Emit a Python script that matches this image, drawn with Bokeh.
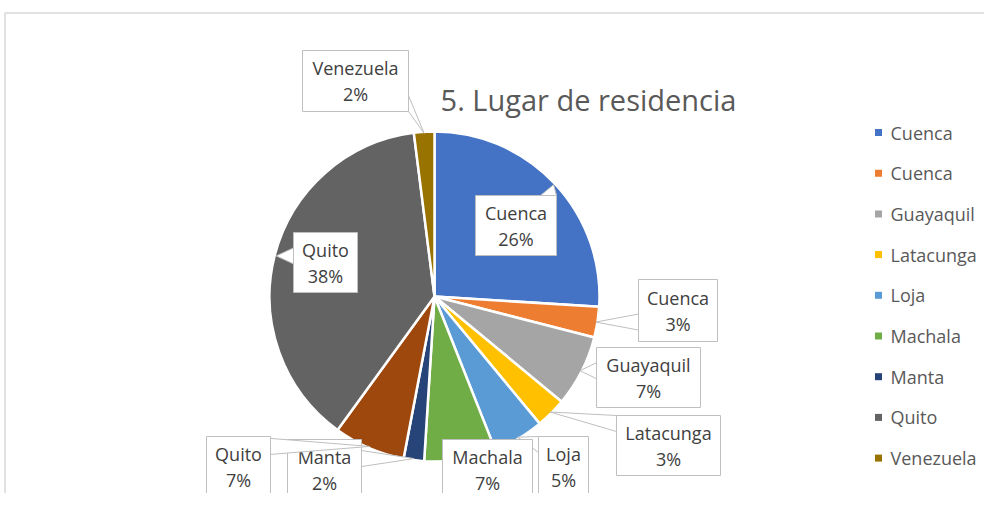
import numpy as np
from bokeh.plotting import figure
from bokeh.models import Range1d
from bokeh.core.properties import value
from bokeh.embed import file_html
from bokeh.resources import INLINE

# ---------------- data ----------------
categories = ["Cuenca", "Cuenca", "Guayaquil", "Latacunga", "Loja",
              "Machala", "Manta", "Quito", "Quito", "Venezuela"]
percent = [26, 3, 7, 3, 5, 7, 2, 7, 38, 2]
colors = ["#4472C4", "#ED7D31", "#A5A5A5", "#FFC000", "#5B9BD5",
          "#70AD47", "#264478", "#9E480E", "#636363", "#997300"]
legend_idx = [0, 1, 2, 3, 4, 5, 6, 8, 9]
title = "5. Lugar de residencia"

# ---------------- layout (image pixel coords) ----------------
W, H = 984, 493
CX, CY, R = 434, 296, 165
# label boxes: left, right, top, bottom
box_l = [475, 638, 596, 616, 538, 442, 287, 206, 293, 302]
box_r = [556, 717, 700, 720, 588, 532, 361, 270, 357, 408]
box_t = [195, 279, 347, 415, 436, 439, 439, 436, 232, 50]
box_b = [255, 341, 407, 475, 496, 499, 499, 496, 292, 111]
LEG_X, LEG_Y0, LEG_DY = 878, 132, 40.7
FONT = value("Open Sans")
LBL_SIZE = "18px"


def Y(yi):
    return H - np.asarray(yi, dtype=float)


p = figure(width=W, height=H, x_range=Range1d(0, W), y_range=Range1d(0, H),
           output_backend="svg", toolbar_location=None, min_border=0,
           x_axis_type=None, y_axis_type=None)
p.grid.visible = False
p.outline_line_color = None
p.background_fill_color = "white"
p.border_fill_color = "white"

# chart area border
p.line(x=[4.5, 4.5, W], y=Y([H + 5, 12.5, 12.5]), line_color="#d9d9d9", line_width=1.5)

# pie
vals = np.array(percent, dtype=float)
frac = vals / vals.sum()
cum = np.concatenate([[0], np.cumsum(frac)])
start = np.pi / 2 - 2 * np.pi * cum[:-1]
end = np.pi / 2 - 2 * np.pi * cum[1:]
p.wedge(x=[CX] * len(vals), y=list(Y([CY] * len(vals))), radius=R,
        start_angle=list(start), end_angle=list(end), direction="clock",
        fill_color=colors, line_color="white", line_width=2.5)

# data labels with callouts
mid = 2 * np.pi * (cum[:-1] + cum[1:]) / 2
tip_x = CX + R * 0.99 * np.sin(mid)
tip_y = CY - R * 0.99 * np.cos(mid)
for i in range(len(vals)):
    l, r, t, b = box_l[i], box_r[i], box_t[i], box_b[i]
    tx, ty = tip_x[i], tip_y[i]
    inside = l <= tx <= r and t <= ty <= b
    if not inside:
        hw = 8
        if tx < l or tx > r:
            ex = l if tx < l else r
            cy = min(max(ty, t + hw), b - hw)
            px = [ex, tx, ex]
            py = [cy - hw, ty, cy + hw]
        else:
            ey = t if ty < t else b
            cx = min(max(tx, l + hw), r - hw)
            px = [cx - hw, tx, cx + hw]
            py = [ey, ty, ey]
        p.patch(x=px, y=list(Y(py)), fill_color="white", line_color="#bfbfbf", line_width=1)
    p.quad(left=[l], right=[r], top=list(Y([t])), bottom=list(Y([b])),
           fill_color="white", line_color="#bfbfbf", line_width=1)
    xc = (l + r) / 2
    yc = (t + b) / 2
    p.text(x=[xc], y=list(Y([yc - 13])), text=[categories[i]], text_font=FONT,
           text_font_size=LBL_SIZE, text_color="#404040", text_align="center",
           text_baseline="middle")
    p.text(x=[xc], y=list(Y([yc + 13])), text=[f"{percent[i]}%"], text_font=FONT,
           text_font_size=LBL_SIZE, text_color="#404040", text_align="center",
           text_baseline="middle")

# title
p.text(x=[588], y=list(Y([99])), text=[title], text_font=FONT, text_font_size="29px",
       text_color="#595959", text_align="center", text_baseline="middle")

# legend
ly = [LEG_Y0 + k * LEG_DY for k in range(len(legend_idx))]
p.scatter(x=[LEG_X] * len(legend_idx), y=list(Y(ly)), marker="square", size=7,
          fill_color=[colors[i] for i in legend_idx], line_color=None)
p.text(x=[LEG_X + 12] * len(legend_idx), y=list(Y(ly)),
       text=[categories[i] for i in legend_idx], text_font=FONT,
       text_font_size=LBL_SIZE, text_color="#595959", text_align="left",
       text_baseline="middle")

open("out.html", "w").write(file_html(p, INLINE))
